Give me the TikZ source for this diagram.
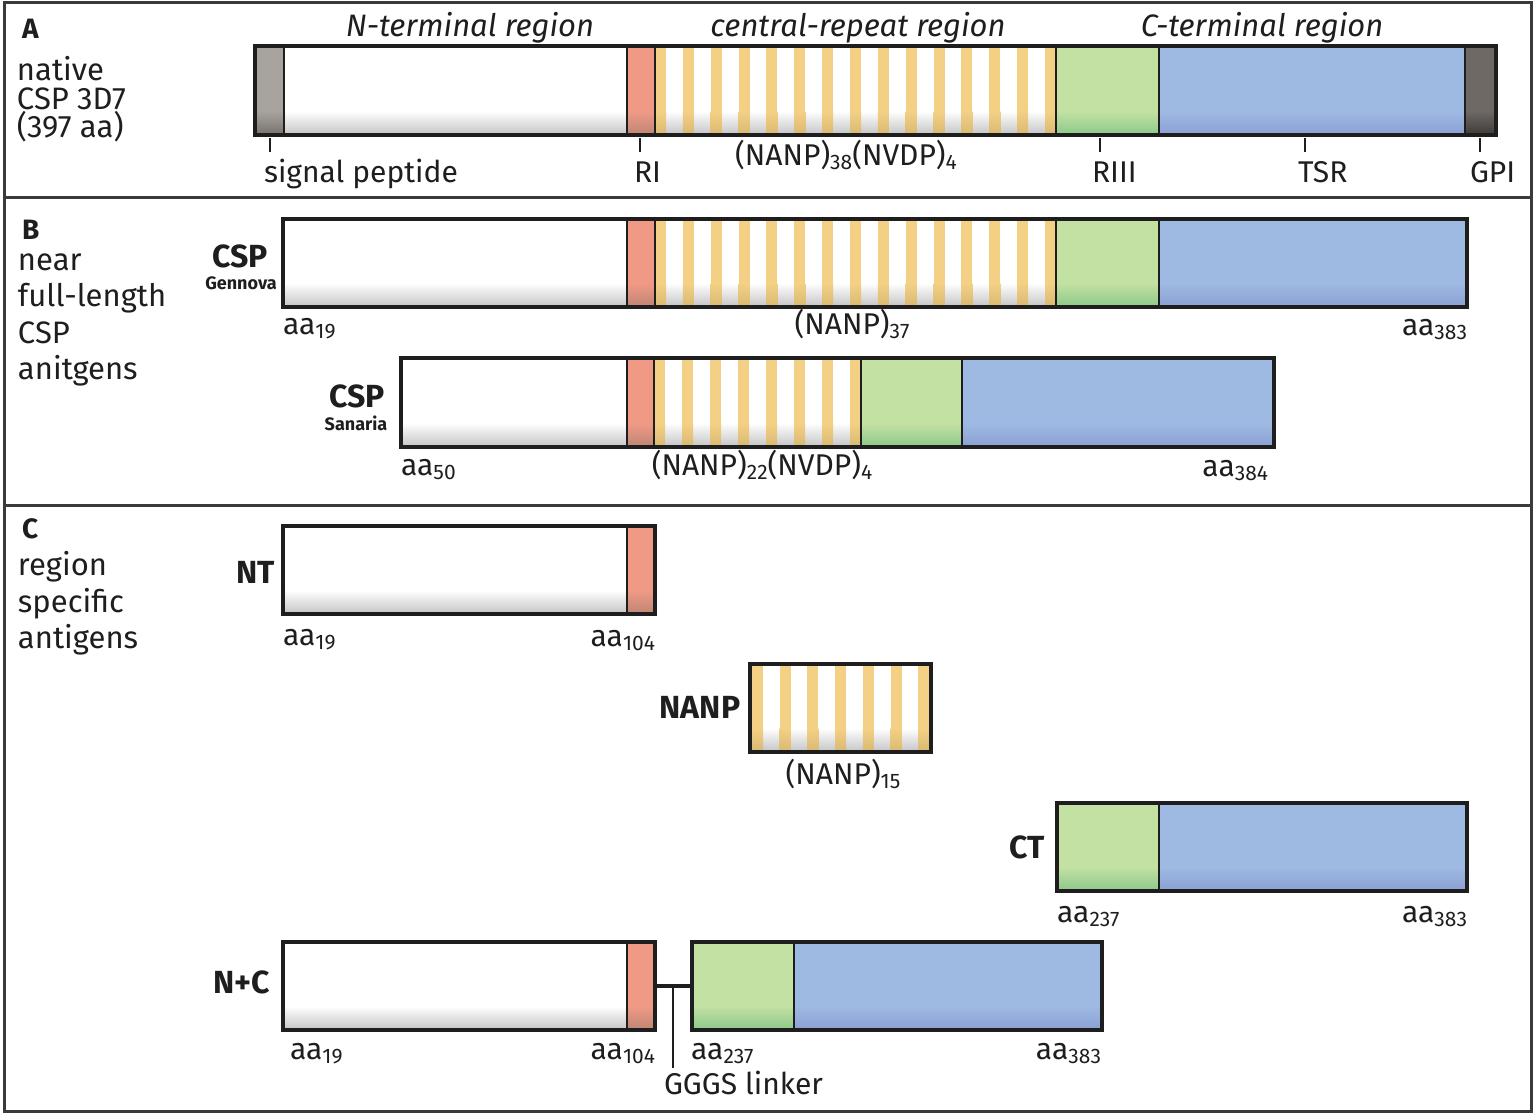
\documentclass[tikz,border=0pt]{standalone}
\usepackage{fontspec}
\setmainfont{Fira Sans}
\definecolor{salmon}{HTML}{F09A86}
\definecolor{salbot}{HTML}{BE8573}
\definecolor{rep}{HTML}{F3D084}
\definecolor{repbot}{HTML}{D8B873}
\definecolor{grn}{HTML}{C3E1A3}
\definecolor{grnbot}{HTML}{8CC98A}
\definecolor{blu}{HTML}{9EB9E2}
\definecolor{blubot}{HTML}{8AA0D3}
\definecolor{sig}{HTML}{A8A39F}
\definecolor{sigbot}{HTML}{77726E}
\definecolor{gpi}{HTML}{6E6965}
\definecolor{gpibot}{HTML}{3D3A38}
\definecolor{whbot}{HTML}{C4C4C4}
\definecolor{ink}{HTML}{1E1E1E}
\definecolor{framec}{HTML}{3A3A3A}
\newcommand\seg[6]{%
  \fill[#5] (#1,#3) rectangle (#2,#4);
  \shade[top color=#5,bottom color=#6] (#1,{#4-24}) rectangle (#2,#4);}
\newcommand\sbs[1]{\raisebox{-2.2pt}{\fontsize{10.5}{10.5}\selectfont #1}}
\begin{document}
\begin{tikzpicture}[x=0.5pt,y=-0.5pt,
  every node/.style={text=ink,inner sep=0pt,outer sep=0pt},
  lbl/.style={font=\fontsize{15}{15}\selectfont},
  side/.style={font=\fontsize{15.5}{14.5}\selectfont,align=left,anchor=base west},
  regtitle/.style={font=\fontsize{15.5}{15.5}\selectfont\itshape,anchor=base},
  panel/.style={font=\fontsize{14}{14}\selectfont\bfseries,anchor=base west},
  protname/.style={font=\fontsize{16}{16}\selectfont\bfseries,anchor=base},
  subname/.style={font=\fontsize{9}{9}\selectfont\bfseries,anchor=base},
  outline/.style={draw=ink,line width=2pt},
  divider/.style={draw=ink,line width=0.9pt},
  thickdiv/.style={draw=ink,line width=1.4pt},
  tickln/.style={draw=ink,line width=0.8pt},
  framel/.style={draw=framec,line width=1.5pt}]
\useasboundingbox (0,0) rectangle (1535,1114);
\fill[white] (0,0) rectangle (1535,1114);
% frame
\draw[framel] (4,2) rectangle (1531,1111);
\draw[framel] (4,197) -- (1531,197);
\draw[framel] (4,505) -- (1531,505);

% ================= A =================
\node[panel] (pA) at (22,38) {A};
\node[side] (tA1) at (17,80) {native};
\node[side] (tA2) at (17,109) {CSP 3D7};
\node[side] (tA3) at (17,137) {(397 aa)};
\node[regtitle] (hN) at (470,36) {N-terminal region};
\node[regtitle] (hR) at (858,36) {central-repeat region};
\node[regtitle] (hC) at (1262,36) {C-terminal region};
\seg{255}{284}{46}{135}{sig}{sigbot}
\seg{284}{627}{46}{135}{white}{whbot}
\seg{627}{655}{46}{135}{salmon}{salbot}
\seg{655}{1056}{46}{135}{white}{whbot}
\foreach \i in {0,...,14}{\seg{655+27.857*\i}{666+27.857*\i}{46}{135}{rep}{repbot}}
\seg{1056}{1159}{46}{135}{grn}{grnbot}
\seg{1159}{1465}{46}{135}{blu}{blubot}
\seg{1465}{1496}{46}{135}{gpi}{gpibot}
\draw[thickdiv] (284,46) -- (284,135);
\draw[divider] (627,46) -- (627,135);
\draw[divider] (655,46) -- (655,135);
\draw[divider] (1056,46) -- (1056,135);
\draw[divider] (1159,46) -- (1159,135);
\draw[thickdiv] (1465,46) -- (1465,135);
\draw[outline] (255,46) rectangle (1496,135);
\coordinate (kSP) at (270,138); \coordinate (kSPe) at (270,152);
\coordinate (kRI) at (640,138); \coordinate (kRIe) at (640,152);
\coordinate (kR3) at (1100,138); \coordinate (kR3e) at (1100,152);
\coordinate (kTS) at (1305,138); \coordinate (kTSe) at (1305,152);
\coordinate (kGP) at (1480,138); \coordinate (kGPe) at (1480,152);
\draw[tickln] (kSP) -- (kSPe);
\draw[tickln] (kRI) -- (kRIe);
\draw[tickln] (kR3) -- (kR3e);
\draw[tickln] (kTS) -- (kTSe);
\draw[tickln] (kGP) -- (kGPe);
\node[lbl,anchor=base west] (lSP) at (264,182) {signal peptide};
\node[lbl,anchor=base west] (lRI) at (634,182) {RI};
\node[lbl,anchor=base] (lRep) at (846,165) {(NANP)\sbs{38}(NVDP)\sbs{4}};
\node[lbl,anchor=base west] (lR3) at (1092,182) {RIII};
\node[lbl,anchor=base west] (lTS) at (1298,182) {TSR};
\node[lbl,anchor=base west] (lGP) at (1470,182) {GPI};

% ================= B =================
\node[panel] (pB) at (22,239) {B};
\node[side] (tB1) at (18,270) {near};
\node[side] (tB2) at (18,306) {full-length};
\node[side] (tB3) at (18,343) {CSP};
\node[side] (tB4) at (18,379) {anitgens};
% Gennova
\node[protname] (nG) at (240,267) {CSP};
\node[subname] (nG2) at (241,289) {Gennova};
\seg{283}{627}{219}{307}{white}{whbot}
\seg{627}{655}{219}{307}{salmon}{salbot}
\seg{655}{1056}{219}{307}{white}{whbot}
\foreach \i in {0,...,14}{\seg{655+27.857*\i}{666+27.857*\i}{219}{307}{rep}{repbot}}
\seg{1056}{1159}{219}{307}{grn}{grnbot}
\seg{1159}{1467}{219}{307}{blu}{blubot}
\draw[divider] (627,219) -- (627,307);
\draw[divider] (655,219) -- (655,307);
\draw[divider] (1056,219) -- (1056,307);
\draw[divider] (1159,219) -- (1159,307);
\draw[outline] (283,219) rectangle (1467,307);
\node[lbl,anchor=base west] (g1) at (283,334) {aa\sbs{19}};
\node[lbl,anchor=base] (g2) at (852,334) {(NANP)\sbs{37}};
\node[lbl,anchor=base east] (g3) at (1467,335) {aa\sbs{383}};
% Sanaria
\node[protname] (nS) at (357,407) {CSP};
\node[subname] (nS2) at (356,430) {Sanaria};
\seg{401}{627}{358}{447}{white}{whbot}
\seg{627}{654}{358}{447}{salmon}{salbot}
\seg{654}{861}{358}{447}{white}{whbot}
\foreach \i in {0,...,7}{\seg{654+28*\i}{665+28*\i}{358}{447}{rep}{repbot}}
\seg{861}{962}{358}{447}{grn}{grnbot}
\seg{962}{1274}{358}{447}{blu}{blubot}
\draw[divider] (627,358) -- (627,447);
\draw[divider] (654,358) -- (654,447);
\draw[divider] (861,358) -- (861,447);
\draw[divider] (962,358) -- (962,447);
\draw[outline] (401,358) rectangle (1274,447);
\node[lbl,anchor=base west] (s1) at (401,475) {aa\sbs{50}};
\node[lbl,anchor=base] (s2) at (762,475) {(NANP)\sbs{22}(NVDP)\sbs{4}};
\node[lbl,anchor=base east] (s3) at (1268,476) {aa\sbs{384}};

% ================= C =================
\node[panel] (pC) at (22,538) {C};
\node[side] (tC1) at (18,575) {region};
\node[side] (tC2) at (18,612) {specific};
\node[side] (tC3) at (18,648) {antigens};
% NT
\node[protname] (nNT) at (256,583) {NT};
\seg{283}{627}{526}{614}{white}{whbot}
\seg{627}{655}{526}{614}{salmon}{salbot}
\draw[divider] (627,526) -- (627,614);
\draw[outline] (283,526) rectangle (655,614);
\node[lbl,anchor=base west] (nt1) at (283,645) {aa\sbs{19}};
\node[lbl,anchor=base east] (nt2) at (655,646) {aa\sbs{104}};
% NANP
\node[protname] (nNA) at (700,718) {NANP};
\seg{750}{931}{664}{752}{white}{whbot}
\foreach \i in {0,...,6}{\seg{752+27.7*\i}{763+27.7*\i}{664}{752}{rep}{repbot}}
\draw[outline] (750,664) rectangle (931,752);
\node[lbl,anchor=base] (na1) at (843,784) {(NANP)\sbs{15}};
% CT
\node[protname] (nCT) at (1027,858) {CT};
\seg{1057}{1159}{803}{891}{grn}{grnbot}
\seg{1159}{1467}{803}{891}{blu}{blubot}
\draw[divider] (1159,803) -- (1159,891);
\draw[outline] (1057,803) rectangle (1467,891);
\node[lbl,anchor=base west] (ct1) at (1057,922) {aa\sbs{237}};
\node[lbl,anchor=base east] (ct2) at (1467,922) {aa\sbs{383}};
% N+C
\node[protname] (nNC) at (242,993) {N+C};
\seg{283}{627}{942}{1030}{white}{whbot}
\seg{627}{655}{942}{1030}{salmon}{salbot}
\draw[divider] (627,942) -- (627,1030);
\draw[outline] (283,942) rectangle (655,1030);
\seg{692}{794}{942}{1030}{grn}{grnbot}
\seg{794}{1102}{942}{1030}{blu}{blubot}
\draw[divider] (794,942) -- (794,1030);
\draw[outline] (692,942) rectangle (1102,1030);
\coordinate (nEnd) at (656,986);
\coordinate (cStart) at (691,986);
\coordinate (lnk) at (673,986);
\coordinate (lnkEnd) at (673,1068);
\draw[draw=ink,line width=1.8pt] (nEnd) -- (cStart);
\draw[tickln] (lnk) -- (lnkEnd);
\node[lbl,anchor=base west] (nc1) at (290,1059) {aa\sbs{19}};
\node[lbl,anchor=base east] (nc2) at (655,1059) {aa\sbs{104}};
\node[lbl,anchor=base west] (nc3) at (691,1059) {aa\sbs{237}};
\node[lbl,anchor=base east] (nc4) at (1101,1059) {aa\sbs{383}};
\node[lbl,anchor=base west] (nc5) at (664,1094) {GGGS linker};
\end{tikzpicture}
\end{document}
